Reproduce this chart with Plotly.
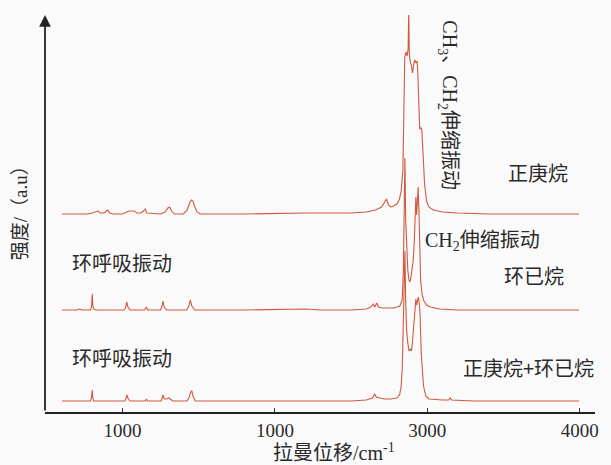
import plotly.graph_objects as go

# ---- data (wavenumber cm-1, relative intensity) ----
heptane = [(603, 0), (770, 0), (800, 1), (825, 2), (840, 3), (855, 1), (880, 1), (895, 3), (905, 4), (915, 1),
           (940, 0), (1000, 0), (1020, 1), (1045, 3), (1065, 3), (1080, 3), (1092, 1), (1120, 1), (1138, 3),
           (1148, 5), (1160, 1), (1250, 0), (1280, 2), (1298, 6), (1310, 7), (1322, 3), (1340, 0), (1400, 0),
           (1425, 4), (1440, 11), (1452, 14), (1462, 13), (1475, 7), (1490, 2), (1510, 0), (1800, 0), (2200, 1),
           (2500, 1), (2600, 2), (2660, 4), (2700, 7), (2718, 12), (2732, 15), (2745, 9), (2760, 7), (2780, 8),
           (2800, 10), (2815, 14), (2828, 22), (2840, 45), (2846, 110), (2852, 157), (2860, 162), (2868, 158),
           (2874, 165), (2878, 203), (2882, 160), (2888, 152), (2896, 148), (2903, 141), (2910, 150), (2918, 154),
           (2926, 151), (2933, 153), (2938, 140), (2943, 110), (2950, 85), (2958, 86), (2964, 84), (2972, 60),
           (2982, 30), (2995, 13), (3010, 7), (3040, 4), (3100, 2), (3200, 1), (3400, 0), (3995, 0)]

cyclohexane = [(603, 0), (700, 0), (720, 1), (735, 0), (790, 0), (797, 3), (802, 16), (806, 4), (812, 1), (830, 0),
               (1010, 0), (1020, 2), (1028, 8), (1036, 3), (1050, 0), (1145, 0), (1157, 3), (1166, 0), (1250, 0),
               (1260, 4), (1266, 9), (1274, 3), (1290, 0), (1420, 0), (1436, 4), (1445, 10), (1455, 4), (1475, 0),
               (1800, 0), (2200, 1), (2300, 0), (2500, 0), (2600, 1), (2630, 3), (2645, 6), (2655, 3), (2668, 7),
               (2680, 3), (2700, 2), (2780, 2), (2820, 4), (2835, 10), (2843, 40), (2849, 110), (2853, 152),
               (2858, 90), (2864, 57), (2872, 40), (2880, 30), (2886, 28), (2893, 33), (2900, 40), (2908, 50),
               (2915, 70), (2920, 100), (2925, 113), (2930, 95), (2935, 110), (2940, 123), (2945, 100), (2950, 55),
               (2956, 30), (2965, 16), (2978, 9), (2995, 5), (3020, 3), (3080, 1), (3200, 0), (3995, 0)]

mixture = [(603, 0), (790, 0), (797, 3), (802, 11), (806, 3), (812, 0), (1015, 0), (1022, 2), (1030, 6), (1038, 2),
           (1050, 0), (1150, 0), (1157, 2), (1165, 0), (1255, 0), (1266, 6), (1275, 2), (1290, 2), (1305, 3),
           (1315, 2), (1330, 0), (1425, 0), (1438, 4), (1447, 9), (1455, 10), (1463, 5), (1478, 0), (1800, 0),
           (2300, 0), (2500, 0), (2600, 1), (2640, 3), (2655, 7), (2665, 4), (2690, 3), (2720, 2), (2760, 2),
           (2800, 3), (2818, 6), (2828, 14), (2836, 34), (2843, 80), (2849, 130), (2853, 150), (2858, 100),
           (2864, 71), (2872, 58), (2880, 50), (2888, 52), (2896, 50), (2903, 60), (2912, 80), (2918, 95),
           (2925, 102), (2930, 96), (2936, 100), (2941, 104), (2947, 98), (2953, 85), (2960, 48), (2968, 25),
           (2975, 15), (2990, 5), (3010, 2), (3100, 1), (3140, 1), (3150, 3), (3160, 1), (3300, 0), (3995, 0)]

tick_vals = [1000, 2000, 3000, 4000]
tick_text = ["1000", "1000", "3000", "4000"]

# vertical offsets (stacking) of the three spectra
offsets = {"heptane": 198, "cyclohexane": 102, "mixture": 11}

LINE = "#d0583f"
TXT = "#2a2a2a"
BG = "#fafafa"
SERIF_CJK = "Liberation Serif, Noto Sans CJK SC"
CJK = "Noto Sans CJK SC, Liberation Serif"

fig = go.Figure()
for name, data in [("heptane", heptane), ("cyclohexane", cyclohexane), ("mixture", mixture)]:
    xs = [p[0] for p in data]
    ys = [p[1] + offsets[name] for p in data]
    fig.add_trace(go.Scatter(x=xs, y=ys, mode="lines", line=dict(color=LINE, width=1.1),
                             showlegend=False, hoverinfo="skip"))

ann = []
def add_text(text, x, y, size=20, xanchor="center", angle=0, font=CJK, xref="x", yref="y"):
    ann.append(dict(text=text, x=x, y=y, xref=xref, yref=yref, showarrow=False, xanchor=xanchor,
                    yanchor="middle", textangle=angle, font=dict(family=font, size=size, color=TXT)))

add_text("CH<sub>3</sub>、CH<sub>2</sub>伸缩振动", 3140, 307, size=20, angle=90, font=SERIF_CJK)
add_text("正庚烷", 3723, 240)
add_text("CH<sub>2</sub>伸缩振动", 2973, 171, xanchor="left", font=SERIF_CJK)
add_text("环已烷", 3697, 137)
add_text("正庚烷+环已烷", 3664, 45, font="Noto Sans CJK SC")
add_text("环呼吸振动", 658, 150, xanchor="left")
add_text("环呼吸振动", 658, 55, xanchor="left")
add_text("拉曼位移/cm<sup>-1</sup>", 2386, -0.1, size=20, font=SERIF_CJK, yref="paper")
add_text("强度/（a.u）", -0.045, 204, size=19, angle=-90, font=SERIF_CJK, xref="paper")

# y axis drawn as an arrow
ann.append(dict(x=0, y=1, xref="paper", yref="paper", ax=0, ay=397, axref="pixel", ayref="pixel",
                showarrow=True, arrowhead=2, arrowsize=1.3, arrowwidth=1.8, arrowcolor="#222",
                standoff=0, text=""))

fig.update_layout(
    width=611, height=465,
    margin=dict(l=45, r=13, t=15, b=53),
    paper_bgcolor=BG, plot_bgcolor=BG,
    annotations=ann,
    xaxis=dict(range=[492, 4100], showgrid=False, zeroline=False, showline=True, linecolor="#222",
               linewidth=2, ticks="inside", ticklen=4, tickwidth=1, tickcolor="#333",
               tickvals=tick_vals, ticktext=tick_text,
               tickfont=dict(family="Liberation Serif", size=19, color=TXT)),
    yaxis=dict(range=[0, 397], showgrid=False, zeroline=False, showline=False,
               showticklabels=False, ticks=""),
)

fig.write_html("out.html", config={"displayModeBar": False},
               post_script="document.body.style.margin='0px';document.body.style.background='#fafafa';")
